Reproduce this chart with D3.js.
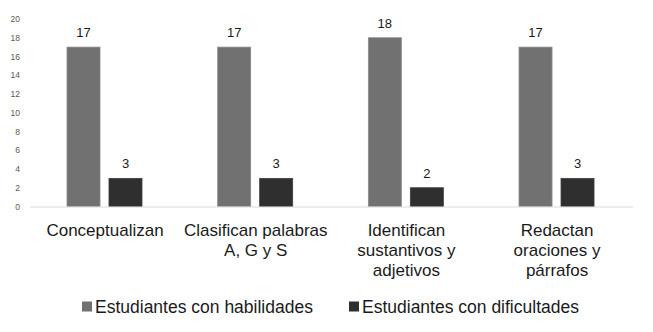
<!DOCTYPE html>
<html>
<head>
<meta charset="utf-8">
<script src="https://cdn.jsdelivr.net/npm/d3@7"></script>
<style>
  html, body { margin: 0; padding: 0; background: #fff; }
  svg { display: block; font-family: "Liberation Sans", Arial, sans-serif; }
</style>
</head>
<body>
<svg id="chart" width="653" height="332"></svg>
<script>
// Categories (each label split into display lines)
const categories = [
  ["Conceptualizan"],
  ["Clasifican palabras", "A, G y S"],
  ["Identifican", "sustantivos y", "adjetivos"],
  ["Redactan", "oraciones y", "párrafos"]
];
const seriesNames = ["Estudiantes con habilidades", "Estudiantes con dificultades"];
const habilidades = [17, 17, 18, 17];
const dificultades = [3, 3, 2, 3];
const yTicks = [0, 2, 4, 6, 8, 10, 12, 14, 16, 18, 20];
const colors = ["#717171", "#2f2f2f"];

const svg = d3.select("#chart");
const plot = { left: 29.7, right: 632.4, top: 19, bottom: 206.5 };

const x0 = d3.scaleBand()
  .domain(d3.range(categories.length))
  .range([plot.left, plot.right])
  .paddingInner(0)
  .paddingOuter(0);

const x1 = d3.scaleBand()
  .domain([0, 1])
  .range([37.3, 37.3 + 75])
  .paddingInner(0.214);

const y = d3.scaleLinear().domain([0, 20]).range([plot.bottom, plot.top]);

// Y axis tick labels (no axis line)
const yAxis = d3.axisLeft(y).tickValues(yTicks).tickSize(0).tickPadding(0);
const yg = svg.append("g").attr("transform", "translate(20,0)").call(yAxis);
yg.select(".domain").remove();
yg.selectAll("text").attr("font-size", 8.5).attr("fill", "#595959")
  .attr("font-family", "Liberation Sans, Arial, sans-serif");

// Bars
const seriesData = [habilidades, dificultades];
seriesData.forEach((vals, s) => {
  const g = svg.append("g");
  g.selectAll("rect").data(vals).join("rect")
    .attr("x", (d, i) => x0(i) + x1(s))
    .attr("y", d => y(d))
    .attr("width", x1.bandwidth())
    .attr("height", d => y(0) - y(d))
    .attr("fill", colors[s])
    .attr("stroke", s === 0 ? "#8a8a8a" : "#3c3c3c")
    .attr("stroke-width", 0.8);
  g.selectAll("text").data(vals).join("text")
    .attr("x", (d, i) => x0(i) + x1(s) + x1.bandwidth() / 2)
    .attr("y", d => y(d) - 10)
    .attr("text-anchor", "middle")
    .attr("font-size", 13)
    .attr("fill", "#1a1a1a")
    .text(d => d);
});

// X axis baseline
const xAxis = d3.axisBottom(x0).tickSize(0).tickFormat("");
const xg = svg.append("g").attr("transform", `translate(0,${plot.bottom})`).call(xAxis);
xg.select(".domain").attr("stroke", "#d9d9d9").attr("stroke-width", 1);

// Category labels
categories.forEach((lines, i) => {
  const t = svg.append("text")
    .attr("x", x0(i) + x0.bandwidth() / 2)
    .attr("y", 236)
    .attr("text-anchor", "middle")
    .attr("font-size", 17)
    .attr("fill", "#1a1a1a");
  lines.forEach((ln, k) => {
    t.append("tspan").attr("x", x0(i) + x0.bandwidth() / 2).attr("dy", k === 0 ? 0 : 20).text(ln);
  });
});

// Legend
const legendX = [82, 349];
seriesNames.forEach((name, s) => {
  svg.append("rect").attr("x", legendX[s]).attr("y", 301.5).attr("width", 10).attr("height", 10)
    .attr("fill", colors[s]);
  svg.append("text").attr("x", legendX[s] + 13).attr("y", 312.5)
    .attr("font-size", 17.5).attr("fill", "#1a1a1a").text(name);
});
</script>
</body>
</html>
